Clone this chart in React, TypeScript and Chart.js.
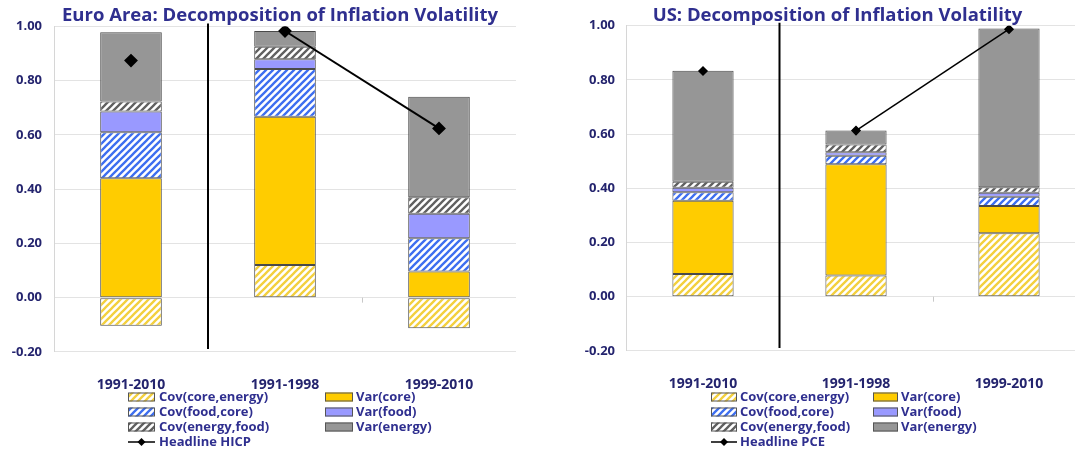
import React, { useEffect, useRef } from 'react';
import { Chart, registerables } from 'chart.js';

Chart.register(...registerables);

const categories = ['1991-2010', '1991-1998', '1999-2010'];
const yTicks = [-0.2, 0, 0.2, 0.4, 0.6, 0.8, 1.0];

// Euro area
const euCovCoreEnergy = [-0.104, 0.12, -0.113];
const euVarCore = [0.44, 0.547, 0.096];
const euCovFoodCore = [0.17, 0.176, 0.123];
const euVarFood = [0.076, 0.036, 0.09];
const euCovEnergyFood = [0.037, 0.046, 0.061];
const euVarEnergy = [0.255, 0.058, 0.371];
const euHeadline = [0.874, 0.983, 0.624];

// US
const usCovCoreEnergy = [0.084, 0.078, 0.234];
const usVarCore = [0.27, 0.411, 0.101];
const usCovFoodCore = [0.031, 0.031, 0.034];
const usVarFood = [0.017, 0.013, 0.015];
const usCovEnergyFood = [0.022, 0.029, 0.02];
const usVarEnergy = [0.41, 0.051, 0.586];
const usHeadline = [0.833, 0.613, 0.987];

const FONT = '"Open Sans", Lato, sans-serif';
const NAVY = '#24246e';
const TITLE = '#2f2f8f';

function hatch(color: string) {
  const s = 7;
  const c = document.createElement('canvas');
  c.width = s;
  c.height = s;
  const g = c.getContext('2d')!;
  g.fillStyle = '#ffffff';
  g.fillRect(0, 0, s, s);
  g.strokeStyle = color;
  g.lineWidth = 2.3;
  g.beginPath();
  g.moveTo(-1, s + 1);
  g.lineTo(s + 1, -1);
  g.moveTo(-2, 2);
  g.lineTo(2, -2);
  g.moveTo(s - 2, s + 2);
  g.lineTo(s + 2, s - 2);
  g.stroke();
  return g.createPattern(c, 'repeat') as CanvasPattern;
}

type Spec = {
  title: string;
  titleX: number;
  lineLabel: string;
  offsetX: number;
  topPad: number;
  rightPad: number;
  yWidth: number;
  labelPad: number;
  xHeight: number;
  markerR: number;
  lineW: number;
  series: number[][];
  headline: number[];
  legend: { c1: number; w1: number; t1: number; c2: number; w2: number; t2: number };
};

function makeChart(canvas: HTMLCanvasElement, spec: Spec) {
  const yellowH = hatch('#f3d03e');
  const blueH = hatch('#3d6ef0');
  const greyH = hatch('#606060');
  const names = ['Cov(core,energy)', 'Var(core)', 'Cov(food,core)', 'Var(food)', 'Cov(energy,food)', 'Var(energy)'];
  const fills: (string | CanvasPattern)[] = [yellowH, '#ffcc00', blueH, '#9999ff', greyH, '#969696'];

  const barSets = spec.series.map((d, i) => ({
    type: 'bar' as const,
    label: names[i],
    data: d,
    backgroundColor: fills[i],
    borderColor: '#4a4a4a',
    borderWidth: 1,
    borderSkipped: false,
    categoryPercentage: 0.4,
    barPercentage: 1,
    order: 1,
  }));

  const lineSet = {
    type: 'line' as const,
    label: spec.lineLabel,
    data: spec.headline,
    borderColor: '#000',
    borderWidth: spec.lineW,
    pointStyle: 'rectRot' as const,
    pointRadius: spec.markerR,
    pointBackgroundColor: '#000',
    pointBorderColor: '#000',
    stack: 'line',
    order: 0,
    segment: {
      borderColor: (ctx: any) => (ctx.p0DataIndex === 0 ? 'rgba(0,0,0,0)' : '#000'),
    },
  };

  const decor = {
    id: 'decor',
    afterDraw(chart: any) {
      const ctx = chart.ctx as CanvasRenderingContext2D;
      const x = chart.scales.x;
      const y = chart.scales.y;
      const ox = spec.offsetX;
      ctx.save();
      // small tick between category 2 and 3 at zero
      const b2 = (x.getPixelForValue(1) + x.getPixelForValue(2)) / 2;
      const y0 = y.getPixelForValue(0);
      ctx.strokeStyle = '#c8c8c8';
      ctx.lineWidth = 1;
      ctx.beginPath();
      ctx.moveTo(Math.round(b2) + 0.5, y0);
      ctx.lineTo(Math.round(b2) + 0.5, y0 + 5);
      ctx.stroke();
      // separator
      const sep = (x.getPixelForValue(0) + x.getPixelForValue(1)) / 2;
      ctx.strokeStyle = '#000';
      ctx.lineWidth = 2;
      ctx.beginPath();
      ctx.moveTo(sep, y.getPixelForValue(1.0) - 3);
      ctx.lineTo(sep, y.getPixelForValue(-0.2) - 3);
      ctx.stroke();
      // title
      ctx.fillStyle = TITLE;
      ctx.font = `bold 18.5px ${FONT}`;
      ctx.textAlign = 'center';
      ctx.textBaseline = 'alphabetic';
      ctx.fillText(spec.title, spec.titleX - ox, 21);
      // legend
      const L = spec.legend;
      const rows = [397, 412, 427, 442];
      const sh = 9;
      ctx.font = `bold 13px ${FONT}`;
      ctx.textAlign = 'left';
      ctx.textBaseline = 'middle';
      const drawSw = (sx: number, w: number, ry: number, fill: string | CanvasPattern) => {
        ctx.fillStyle = fill;
        ctx.fillRect(sx - ox, ry - sh / 2, w, sh);
        ctx.strokeStyle = '#555';
        ctx.lineWidth = 1;
        ctx.strokeRect(sx - ox + 0.5, ry - sh / 2 + 0.5, w - 1, sh - 1);
      };
      const left = [0, 2, 4];
      const right = [1, 3, 5];
      left.forEach((k, r) => {
        drawSw(L.c1, L.w1, rows[r], fills[k]);
        ctx.fillStyle = TITLE;
        ctx.fillText(names[k], L.t1 - ox, rows[r] + 0.5);
      });
      right.forEach((k, r) => {
        drawSw(L.c2, L.w2, rows[r], fills[k]);
        ctx.fillStyle = TITLE;
        ctx.fillText(names[k], L.t2 - ox, rows[r] + 0.5);
      });
      // headline entry
      const hy = rows[3];
      ctx.strokeStyle = '#000';
      ctx.lineWidth = 1.5;
      ctx.beginPath();
      ctx.moveTo(L.c1 - ox, hy);
      ctx.lineTo(L.c1 - ox + L.w1, hy);
      ctx.stroke();
      const mx = L.c1 - ox + L.w1 / 2;
      ctx.fillStyle = '#000';
      ctx.beginPath();
      ctx.moveTo(mx, hy - 4);
      ctx.lineTo(mx + 4, hy);
      ctx.lineTo(mx, hy + 4);
      ctx.lineTo(mx - 4, hy);
      ctx.closePath();
      ctx.fill();
      ctx.fillStyle = TITLE;
      ctx.fillText(spec.lineLabel, L.t1 - ox, hy + 0.5);
      ctx.restore();
    },
  };

  return new Chart(canvas, {
    data: { labels: categories, datasets: [lineSet as any, ...barSets] },
    options: {
      animation: false,
      responsive: false,
      maintainAspectRatio: false,
      layout: { padding: { top: spec.topPad, left: 0, right: spec.rightPad, bottom: 0 } },
      plugins: {
        legend: { display: false },
        title: { display: false },
        tooltip: { enabled: false },
      },
      scales: {
        x: {
          stacked: true,
          grid: { display: false },
          border: { display: false },
          ticks: { font: { family: FONT, size: 14, weight: 'bold' }, color: NAVY, padding: 17 },
          afterFit: (s: any) => {
            s.height = spec.xHeight;
          },
        },
        y: {
          stacked: true,
          min: -0.2,
          max: 1.0,
          afterBuildTicks: (s: any) => {
            s.ticks = yTicks.map((v) => ({ value: v }));
          },
          ticks: {
            callback: (v: any) => Number(v).toFixed(2),
            padding: spec.labelPad,
            font: { family: FONT, size: 13, weight: 'bold' },
            color: NAVY,
          },
          grid: { color: '#e3e3e3', drawTicks: false },
          border: { display: true, color: '#d6d6d6' },
          afterFit: (s: any) => {
            s.width = spec.yWidth;
          },
        },
      },
    },
    plugins: [decor],
  } as any);
}

export default function App() {
  const leftRef = useRef<HTMLCanvasElement>(null);
  const rightRef = useRef<HTMLCanvasElement>(null);

  useEffect(() => {
    const a = makeChart(leftRef.current!, {
      title: 'Euro Area: Decomposition of Inflation Volatility',
      titleX: 280,
      lineLabel: 'Headline HICP',
      offsetX: 0,
      topPad: 26.4,
      rightPad: 44,
      yWidth: 54,
      labelPad: 12,
      xHeight: 100.1,
      markerR: 5.5,
      lineW: 2,
      series: [euCovCoreEnergy, euVarCore, euCovFoodCore, euVarFood, euCovEnergyFood, euVarEnergy],
      headline: euHeadline,
      legend: { c1: 128, w1: 27, t1: 159, c2: 325, w2: 28, t2: 356 },
    });
    const b = makeChart(rightRef.current!, {
      title: 'US: Decomposition of Inflation Volatility',
      titleX: 837.5,
      lineLabel: 'Headline PCE',
      offsetX: 560,
      topPad: 25.7,
      rightPad: 14.5,
      yWidth: 66.5,
      labelPad: 11.5,
      xHeight: 101.1,
      markerR: 4,
      lineW: 1.5,
      series: [usCovCoreEnergy, usVarCore, usCovFoodCore, usVarFood, usCovEnergyFood, usVarEnergy],
      headline: usHeadline,
      legend: { c1: 711, w1: 26, t1: 740, c2: 873, w2: 25, t2: 901 },
    });
    return () => {
      a.destroy();
      b.destroy();
    };
  }, []);

  return (
    <div style={{ position: 'fixed', left: 0, top: 0, width: 1075, height: 452, overflow: 'hidden', background: '#fff' }}>
      <canvas ref={leftRef} width={560} height={452} style={{ position: 'absolute', left: 0, top: 0 }} />
      <div style={{ position: 'absolute', left: 560, top: 0, width: 515, height: 452, overflow: 'hidden' }}>
        <canvas ref={rightRef} width={540} height={452} style={{ position: 'absolute', left: 0, top: 0 }} />
      </div>
    </div>
  );
}
